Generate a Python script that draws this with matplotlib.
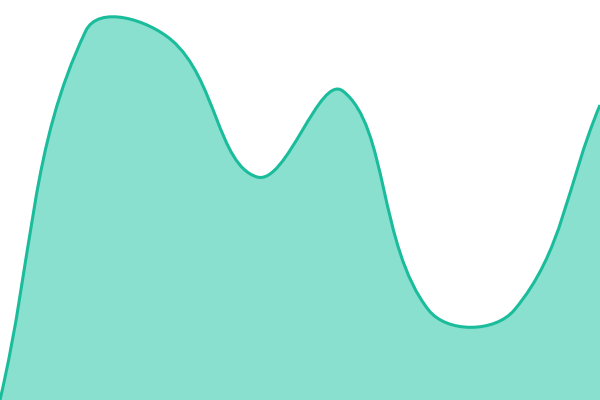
import matplotlib
matplotlib.use("Agg")
import matplotlib.pyplot as plt
from matplotlib.path import Path
from matplotlib.patches import PathPatch
import numpy as np

# data (one value per category, y axis 0..400)
labels = ["a", "b", "c", "d", "e", "f", "g", "h"]
values = [0, 369, 360, 223, 309, 90, 90, 295]
y_min, y_max = 0, 400
tension = 0.4

fig = plt.figure(figsize=(6, 4), dpi=100)
ax = fig.add_axes([0, 0, 1, 1])
ax.set_xlim(0, len(labels) - 1)
ax.set_ylim(y_min, y_max)
ax.axis("off")

# work in pixel space like a canvas chart does
x = np.arange(len(labels), dtype=float)
pts = ax.transData.transform(np.column_stack([x, values]))
W, H = fig.bbox.width, fig.bbox.height


def spline(prev, cur, nxt, t):
    d01 = np.hypot(*(cur - prev))
    d12 = np.hypot(*(nxt - cur))
    tot = d01 + d12
    s01 = d01 / tot if tot else 0
    s12 = d12 / tot if tot else 0
    c_prev = cur - t * s01 * (nxt - prev)
    c_next = cur + t * s12 * (nxt - prev)
    return c_prev, c_next


n = len(pts)
cps = []
for i in range(n):
    prev = pts[i - 1] if i > 0 else pts[i]
    nxt = pts[i + 1] if i < n - 1 else pts[i]
    cp, cn = spline(prev, pts[i], nxt, tension)
    cp = np.clip(cp, [0, 0], [W, H])
    cn = np.clip(cn, [0, 0], [W, H])
    cps.append((cp, cn))

verts = [pts[0]]
codes = [Path.MOVETO]
for i in range(n - 1):
    verts += [cps[i][1], cps[i + 1][0], pts[i + 1]]
    codes += [Path.CURVE4] * 3

inv = ax.transData.inverted()
line_verts = inv.transform(np.array(verts))

fill_verts = list(line_verts) + [[x[-1], y_min], [x[0], y_min], line_verts[0]]
fill_codes = codes + [Path.LINETO, Path.LINETO, Path.CLOSEPOLY]

ax.add_patch(PathPatch(Path(fill_verts, fill_codes), facecolor="#8ae0cf",
                       edgecolor="none"))
ax.add_patch(PathPatch(Path(line_verts, codes), facecolor="none",
                       edgecolor="#1abc9c", lw=2.2, capstyle="butt",
                       joinstyle="round"))

fig.savefig("out.png", dpi=100)
